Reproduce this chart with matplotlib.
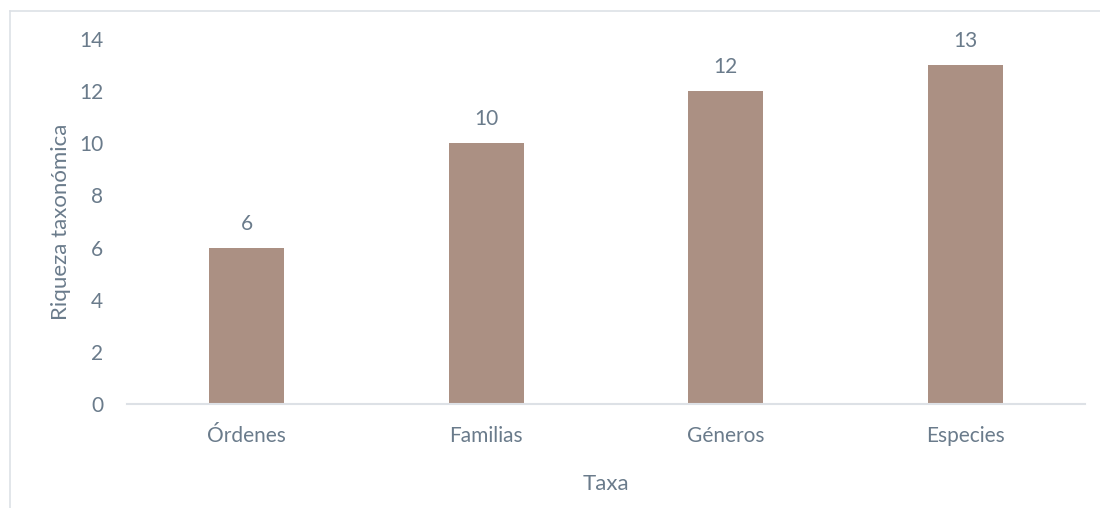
import matplotlib.pyplot as plt
from matplotlib.lines import Line2D

# Datos
taxa = ["Órdenes", "Familias", "Géneros", "Especies"]
riqueza = [6, 10, 12, 13]
y_ticks = [0, 2, 4, 6, 8, 10, 12, 14]

bar_color = "#ab9083"
text_color = "#6a7b8b"
grid_color = "#dde1e6"

plt.rcParams["font.family"] = ["Lato", "DejaVu Sans"]

fig = plt.figure(figsize=(11, 5.08), dpi=100)
ax = fig.add_axes([127 / 1100, 1 - 404 / 508, 958 / 1100, 365 / 508])

x = range(len(taxa))
ax.bar(x, riqueza, width=0.313, color=bar_color)

ax.set_xlim(-0.5, len(taxa) - 0.5)
ax.set_ylim(0, 14)
ax.set_yticks(y_ticks)
ax.set_xticks(list(x))
ax.set_xticklabels(taxa)

for s in ["top", "right", "left"]:
    ax.spines[s].set_visible(False)
ax.spines["bottom"].set_color(grid_color)
ax.spines["bottom"].set_linewidth(1.5)
ax.tick_params(length=0, labelsize=15, colors=text_color)
ax.tick_params(axis="y", pad=17)
ax.tick_params(axis="x", pad=16)

for i, v in enumerate(riqueza):
    ax.annotate(str(v), (i, v), xytext=(0, 10), textcoords="offset points",
                ha="center", va="bottom", fontsize=15, color=text_color)

ax.set_ylabel("Riqueza taxonómica", fontsize=16, color=text_color, labelpad=6)
ax.set_xlabel("Taxa", fontsize=16, color=text_color, labelpad=20)

# Borde del gráfico
fig.add_artist(Line2D([10 / 1100, 1], [1 - 11 / 508, 1 - 11 / 508],
                      transform=fig.transFigure, color=grid_color, lw=1.2))
fig.add_artist(Line2D([10 / 1100, 10 / 1100], [0, 1 - 11 / 508],
                      transform=fig.transFigure, color=grid_color, lw=1.2))

fig.savefig("out.png", dpi=100)
